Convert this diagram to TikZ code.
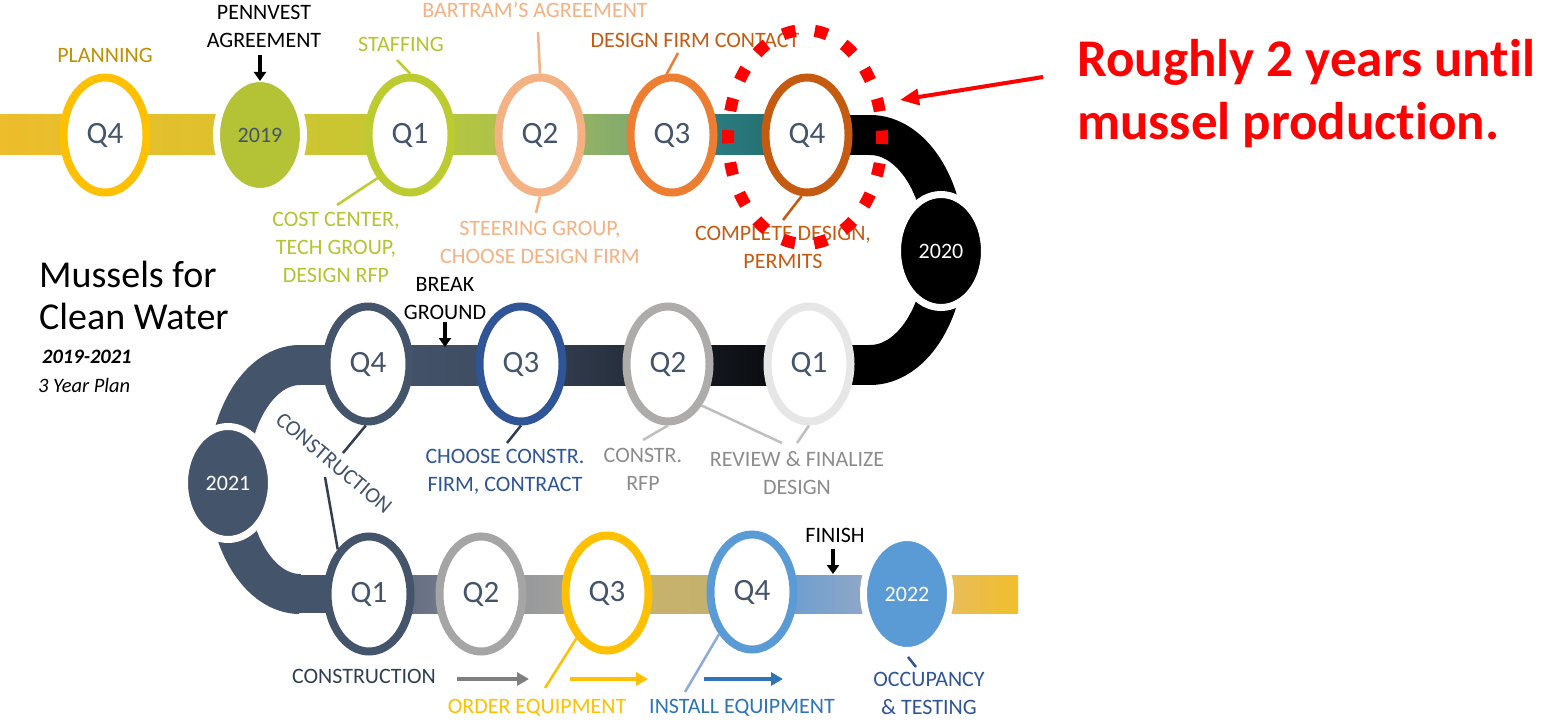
\documentclass[tikz,border=0pt]{standalone}
\usepackage{fontspec}
\setmainfont{Carlito}[Ligatures={NoCommon}]
\usetikzlibrary{shapes.geometric,arrows.meta}
\definecolor{yel}{HTML}{FFC000}
\definecolor{plantext}{HTML}{BF9000}
\definecolor{lime}{HTML}{BCCB30}
\definecolor{limetext}{HTML}{B2C530}
\definecolor{peach}{HTML}{F4B183}
\definecolor{orng}{HTML}{ED7D31}
\definecolor{dorng}{HTML}{C55A11}
\definecolor{slate}{HTML}{44546A}
\definecolor{dslate}{HTML}{333F50}
\definecolor{navy}{HTML}{2F5597}
\definecolor{graytwo}{HTML}{AEABAB}
\definecolor{grayone}{HTML}{E7E6E6}
\definecolor{graythree}{HTML}{A5A5A5}
\definecolor{ltxt}{HTML}{8C8C8C}
\definecolor{lline}{HTML}{BFBFBF}
\definecolor{sky}{HTML}{5B9BD5}
\definecolor{skyd}{HTML}{2E75B6}
\definecolor{skyl}{HTML}{8FAADC}
\definecolor{yrnine}{HTML}{B4C235}
\definecolor{qgray}{HTML}{44546A}
\definecolor{redc}{HTML}{FF0000}
\definecolor{arrgray}{HTML}{7F7F7F}
\newcommand\mcQ{\fontsize{31}{36}\selectfont}
\newcommand\mcYr{\fontsize{22}{26}\selectfont}
\newcommand\mcLbl{\fontsize{22}{28}\selectfont}
\newcommand\mcTitle{\fontsize{38}{42}\selectfont}
\newcommand\mcSub{\fontsize{20.5}{24}\selectfont}
\newcommand\mcRed{\fontsize{53}{63}\selectfont\bfseries}
\begin{document}
\begin{tikzpicture}[x=1pt,y=-1pt,
  ring/.style={ellipse, draw=#1, line width=8pt, fill=white, minimum width=83pt, minimum height=115pt, inner sep=0pt, font=\mcQ, text=qgray},
  yearnode/.style={ellipse, fill=#1, draw=white, line width=7pt, minimum width=87pt, minimum height=113pt, inner sep=0pt, font=\mcYr},
  lab/.style={font=\mcLbl, align=center, inner sep=0pt},
  leader/.style={line width=2.5pt, draw=#1},
  blkarrow/.style={line width=3.5pt, -{Triangle[length=9pt,width=12pt]}},
  colarrow/.style={line width=4.5pt, draw=#1, -{Triangle[length=12pt,width=13pt]}}]
\useasboundingbox (0,0) rectangle (1541,722);
\fill[white] (0,0) rectangle (1541,722);

% ---------- bands ----------
% top row
\path[left color={rgb,255:red,237;green,189;blue,43}, right color={rgb,255:red,220;green,194;blue,46}] (0,115) rectangle (261,155);
\path[left color={rgb,255:red,210;green,196;blue,49}, right color={rgb,255:red,195;green,199;blue,51}] (260,115) rectangle (411,155);
\path[left color={rgb,255:red,186;green,202;blue,53}, right color={rgb,255:red,168;green,190;blue,85}] (410,115) rectangle (541,155);
\path[left color={rgb,255:red,162;green,186;blue,92}, right color={rgb,255:red,114;green,162;blue,118}] (540,115) rectangle (673,155);
\path[left color={rgb,255:red,46;green,133;blue,133}, right color={rgb,255:red,34;green,104;blue,110}] (672,115) rectangle (808,155);
\fill[black] (807,115) rectangle (871,155);
% right curve
\draw[line width=40pt, black] (870,135) arc[start angle=-90, end angle=90, x radius=75, y radius=115];
% middle row
\fill[black] (809,345) rectangle (871,385);
\path[left color={rgb,255:red,24;green,29;blue,37}, right color={rgb,255:red,5;green,6;blue,8}] (668,345) rectangle (810,385);
\path[left color={rgb,255:red,56;green,68;blue,88}, right color={rgb,255:red,31;green,38;blue,49}] (521,345) rectangle (669,385);
\path[left color={rgb,255:red,68;green,84;blue,106}, right color={rgb,255:red,61;green,75;blue,96}] (368,345) rectangle (522,385);
\fill[slate] (299,345) rectangle (369,385);
% left curve
\draw[line width=40pt, slate] (300,365) arc[start angle=270, end angle=90, x radius=72, y radius=114.5];
% bottom row
\fill[slate] (299,575) rectangle (370,613);
\path[left color={rgb,255:red,86;green,98;blue,122}, right color={rgb,255:red,128;green,133;blue,144}] (369,575) rectangle (482,613);
\path[left color={rgb,255:red,143;green,146;blue,152}, right color={rgb,255:red,169;green,167;blue,160}] (481,575) rectangle (608,613);
\path[left color={rgb,255:red,201;green,178;blue,106}, right color={rgb,255:red,195;green,177;blue,112}] (607,575) rectangle (753,613);
\path[left color={rgb,255:red,91;green,155;blue,213}, right color={rgb,255:red,164;green,171;blue,194}] (752,575) rectangle (907,613);
\path[left color={rgb,255:red,227;green,188;blue,122}, right color={rgb,255:red,241;green,190;blue,43}] (906,575) rectangle (1018,613);

% ---------- year nodes ----------
\node[yearnode=yrnine, text=qgray] (y2019) at (260,135) {2019};
\node[yearnode=black, text=white] (y2020) at (941,251) {2020};
\node[yearnode=slate, text=white] (y2021) at (228,483) {2021};
\node[yearnode=sky, text=white] (y2022) at (907,594) {2022};

% ---------- rings ----------
\node[ring=yel] (q4t) at (105,135) {Q4};
\node[ring=lime] (q1t) at (410,135) {Q1};
\node[ring=peach] (q2t) at (540,135) {Q2};
\node[ring=orng] (q3t) at (672,135) {Q3};
\node[ring=dorng] (q4tb) at (807,135) {Q4};

\node[ring=grayone] (q1m) at (809,364) {Q1};
\node[ring=graytwo] (q2m) at (668,364) {Q2};
\node[ring=navy] (q3m) at (521,364) {Q3};
\node[ring=slate] (q4m) at (368,364) {Q4};

\node[ring=slate] (q1b) at (369,594) {Q1};
\node[ring=graythree] (q2b) at (481,594) {Q2};
\node[ring=yel] (q3b) at (607,593) {Q3};
\node[ring=sky] (q4b) at (752,592) {Q4};

% ---------- labels ----------
\node[lab, text=plantext, anchor=base] (lplan) at (105,63) {PLANNING};
\node[lab, text=black] (lpenn) at (264,26) {PENNVEST\\AGREEMENT};
\node[lab, text=limetext, anchor=base] (lstaff) at (401,52) {STAFFING};
\node[lab, text=limetext] (lcost) at (336,247) {COST CENTER,\\TECH GROUP,\\DESIGN RFP};
\node[lab, text=peach, anchor=base] (lbart) at (535,18) {BARTRAM’S AGREEMENT};
\node[lab, text=peach] (lsteer) at (540,242) {STEERING GROUP,\\CHOOSE DESIGN FIRM};
\node[lab, text=dorng, anchor=base] (ldfc) at (695,48) {DESIGN FIRM CONTACT};
\node[lab, text=dorng] (lcomp) at (783,247) {COMPLETE DESIGN,\\PERMITS};

\node[lab, text=black] (lbreak) at (445,299) {BREAK\\GROUND};
\node[lab, text=slate, rotate=-40] (lconrot) at (334,463) {CONSTRUCTION};
\node[lab, text=navy] (lchoose) at (505,472) {CHOOSE CONSTR.\\FIRM, CONTRACT};
\node[lab, text=ltxt] (lrfp) at (643,469) {CONSTR.\\RFP};
\node[lab, text=ltxt] (lrev) at (797,473) {REVIEW \& FINALIZE\\DESIGN};

\node[lab, text=dslate, anchor=base] (lconb) at (364,683) {CONSTRUCTION};
\node[lab, text=yel, anchor=base] (lorder) at (537,713) {ORDER EQUIPMENT};
\node[lab, text=skyd, anchor=base] (linst) at (742,713) {INSTALL EQUIPMENT};
\node[lab, text=black, anchor=base] (lfin) at (835,542) {FINISH};
\node[lab, text=navy] (locc) at (929,693) {OCCUPANCY\\\& TESTING};

% title
\node[font=\mcTitle, align=left, inner sep=0pt, anchor=west] (title) at (39,295) {Mussels for\\Clean Water};
\node[font=\mcSub\bfseries\itshape, inner sep=0pt, anchor=base west] (years) at (42,363) {2019-2021};
\node[font=\mcSub\itshape, inner sep=0pt, anchor=base west] (plan) at (38,392) {3 Year Plan};

% ---------- leader coordinates ----------
\coordinate (cstaff) at (397,60);
\coordinate (ccost) at (337,205);
\coordinate (cbart) at (538,32);
\coordinate (csteer) at (536,213);
\coordinate (cdfc) at (678,53);
\coordinate (ccomp) at (783,220);
\coordinate (cconA) at (343,453);
\coordinate (cconB) at (325,477);
\coordinate (cchoose) at (507,443);
\coordinate (crfp) at (643,440);
\coordinate (crevA) at (782,443);
\coordinate (crevB) at (797,443);
\coordinate (corder) at (545,688);
\coordinate (cinst) at (685,692);
\coordinate (coccA) at (908,657);
\coordinate (coccB) at (916,667);

\draw[leader=lime] (q1t.north) -- (cstaff);
\draw[leader=lime] (q1t.233) -- (ccost);
\draw[leader=peach] (q2t.north) -- (cbart);
\draw[leader=peach] (q2t.south) -- (csteer);
\draw[leader=orng] (q3t.95) -- (cdfc);
\draw[leader=dorng] (q4tb.265) -- (ccomp);
\draw[leader=dslate] (q4m.268) -- (cconA);
\draw[leader=dslate] (q1b.125) -- (cconB);
\draw[leader=dslate] (q3m.south) -- (cchoose);
\draw[leader=lline] (q2m.south) -- (crfp);
\draw[leader=lline] (q2m.309) -- (crevA);
\draw[leader=lline] (q1m.south) -- (crevB);
\draw[leader=yel] (q3b.236) -- (corder);
\draw[leader=skyl] (q4b.232) -- (cinst);
\draw[leader=navy] (coccA) -- (coccB);

% ---------- arrows ----------
\coordinate (pa) at (260,55); \coordinate (pb) at (260,81);
\coordinate (ba) at (445,322); \coordinate (bb) at (445,347);
\coordinate (fa) at (833,549); \coordinate (fb) at (833,574);
\draw[blkarrow] (pa) -- (pb);
\draw[blkarrow] (ba) -- (bb);
\draw[blkarrow] (fa) -- (fb);
\coordinate (ga) at (457,679); \coordinate (gb) at (529,679);
\coordinate (oa) at (570,679); \coordinate (ob) at (648,679);
\coordinate (ia) at (704,679); \coordinate (ib) at (783,679);
\draw[colarrow=arrgray] (ga) -- (gb);
\draw[colarrow=yel] (oa) -- (ob);
\draw[colarrow=skyd] (ia) -- (ib);

% ---------- red annotation ----------
\node[ellipse, draw=redc, line width=12pt, dash pattern=on 13pt off 19.3pt, dash phase=6.5pt, minimum width=154pt, minimum height=214pt, inner sep=0pt] (hl) at (805,137) {};
\coordinate (redtail) at (1043,77);
\coordinate (redtip) at (900,100);
\draw[redc, line width=4pt, -{Triangle[length=19pt,width=16pt]}] (redtail) -- (redtip);
\node[font=\mcRed, text=redc, align=left, inner sep=0pt, anchor=west] (redtext) at (1077,94) {Roughly 2 years until\\mussel production.};
\end{tikzpicture}
\end{document}
